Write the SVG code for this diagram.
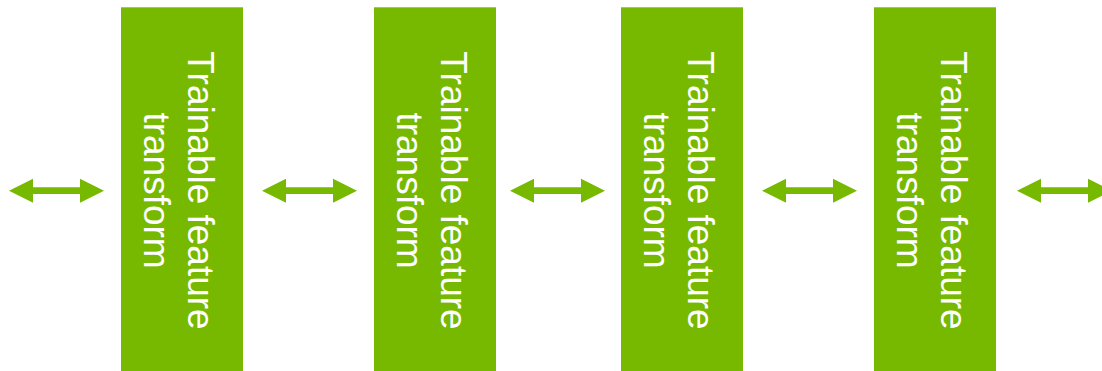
<svg xmlns="http://www.w3.org/2000/svg" xmlns:xlink="http://www.w3.org/1999/xlink" width="1102" height="371" viewBox="0 0 1102 371">
  <style>
    .box { fill: #76b900; }
    .lbl { font-family: "Liberation Sans", Arial, sans-serif; font-size: 37px; fill: #ffffff; text-anchor: middle; }
    .arrow { fill: #76b900; }
  </style>
  <defs>
    <path id="dblarrow" d="M0,0 L24,-12 L24,-3.4 L71,-3.4 L71,-12 L95,0 L71,12 L71,3.4 L24,3.4 L24,12 Z"/>
  </defs>
  <rect width="1102" height="371" fill="#ffffff"/>
  <g id="connectors" class="arrow">
    <use xlink:href="#dblarrow" transform="translate(9,190.7)"/>
    <use xlink:href="#dblarrow" transform="translate(262,190.7)"/>
    <use xlink:href="#dblarrow" transform="translate(510,190.7)"/>
    <use xlink:href="#dblarrow" transform="translate(762,190.7)"/>
    <use xlink:href="#dblarrow" transform="translate(1017,190.7)"/>
  </g>
  <g id="node1">
    <rect class="box" x="121" y="7.3" width="122" height="370"/>
    <text class="lbl" transform="translate(188,190.5) rotate(90)"><tspan x="0" y="0">Trainable feature</tspan><tspan x="0" y="44">transform</tspan></text>
  </g>
  <g id="node2">
    <rect class="box" x="374" y="7.3" width="122" height="370"/>
    <text class="lbl" transform="translate(441,190.5) rotate(90)"><tspan x="0" y="0">Trainable feature</tspan><tspan x="0" y="44">transform</tspan></text>
  </g>
  <g id="node3">
    <rect class="box" x="621" y="7.3" width="122" height="370"/>
    <text class="lbl" transform="translate(688,190.5) rotate(90)"><tspan x="0" y="0">Trainable feature</tspan><tspan x="0" y="44">transform</tspan></text>
  </g>
  <g id="node4">
    <rect class="box" x="874" y="7.3" width="122" height="370"/>
    <text class="lbl" transform="translate(941,190.5) rotate(90)"><tspan x="0" y="0">Trainable feature</tspan><tspan x="0" y="44">transform</tspan></text>
  </g>
</svg>
